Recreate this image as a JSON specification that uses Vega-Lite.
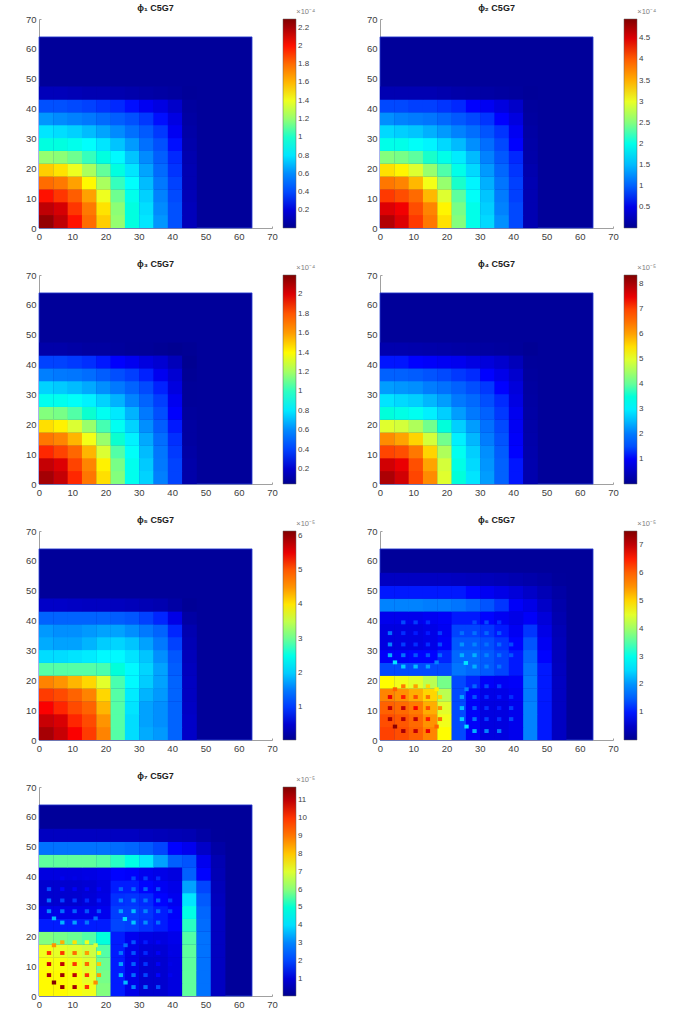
{"$schema":"https://vega.github.io/schema/vega-lite/v6.json","padding":{"left":25,"top":4,"right":0,"bottom":0},"background":"white","columns":2,"bounds":"flush","spacing":{"row":47,"column":108},"resolve":{"scale":{"color":"independent"}},"config":{"view":{"stroke":null},"font":"Liberation Sans","title":{"fontSize":9,"fontWeight":"bold","color":"#202020","offset":-5.5},"axis":{"grid":false,"domainColor":"#a0a0a0","tickColor":"#a0a0a0","tickSize":-2,"labelColor":"#404040","labelFontSize":9.5,"labelPadding":5,"values":[0,10,20,30,40,50,60,70],"labelFlush":false,"labelOverlap":false},"legend":{"orient":"none","legendX":244,"legendY":0,"gradientLength":209,"gradientThickness":13,"labelFontSize":8,"labelColor":"#404040","labelOffset":5,"labelOverlap":false,"gradientStrokeColor":"#606060","gradientStrokeWidth":0.5}},
"datasets":{
"c1":[
{"x":0,"y":0,"v":2.25},{"x":4.3,"y":0,"v":2.15},{"x":8.6,"y":0,"v":2},{"x":12.9,"y":0,"v":1.8},{"x":17.2,"y":0,"v":1.55},{"x":21.5,"y":0,"v":1.2},{"x":25.8,"y":0,"v":0.95},{"x":30.1,"y":0,"v":0.8},{"x":34.4,"y":0,"v":0.62},{"x":38.7,"y":0,"v":0.42},{"x":43,"y":0,"v":0.12},
{"x":0,"y":4.3,"v":2.15},{"x":4.3,"y":4.3,"v":2.1},{"x":8.6,"y":4.3,"v":1.95},{"x":12.9,"y":4.3,"v":1.75},{"x":17.2,"y":4.3,"v":1.5},{"x":21.5,"y":4.3,"v":1.18},{"x":25.8,"y":4.3,"v":0.95},{"x":30.1,"y":4.3,"v":0.78},{"x":34.4,"y":4.3,"v":0.6},{"x":38.7,"y":4.3,"v":0.42},{"x":43,"y":4.3,"v":0.12},
{"x":0,"y":8.6,"v":2},{"x":4.3,"y":8.6,"v":1.95},{"x":8.6,"y":8.6,"v":1.85},{"x":12.9,"y":8.6,"v":1.65},{"x":17.2,"y":8.6,"v":1.4},{"x":21.5,"y":8.6,"v":1.12},{"x":25.8,"y":8.6,"v":0.92},{"x":30.1,"y":8.6,"v":0.75},{"x":34.4,"y":8.6,"v":0.58},{"x":38.7,"y":8.6,"v":0.4},{"x":43,"y":8.6,"v":0.11},
{"x":0,"y":12.9,"v":1.8},{"x":4.3,"y":12.9,"v":1.75},{"x":8.6,"y":12.9,"v":1.65},{"x":12.9,"y":12.9,"v":1.45},{"x":17.2,"y":12.9,"v":1.25},{"x":21.5,"y":12.9,"v":1.03},{"x":25.8,"y":12.9,"v":0.87},{"x":30.1,"y":12.9,"v":0.7},{"x":34.4,"y":12.9,"v":0.55},{"x":38.7,"y":12.9,"v":0.38},{"x":43,"y":12.9,"v":0.1},
{"x":0,"y":17.2,"v":1.55},{"x":4.3,"y":17.2,"v":1.5},{"x":8.6,"y":17.2,"v":1.4},{"x":12.9,"y":17.2,"v":1.25},{"x":17.2,"y":17.2,"v":1.1},{"x":21.5,"y":17.2,"v":0.95},{"x":25.8,"y":17.2,"v":0.8},{"x":30.1,"y":17.2,"v":0.65},{"x":34.4,"y":17.2,"v":0.5},{"x":38.7,"y":17.2,"v":0.35},{"x":43,"y":17.2,"v":0.1},
{"x":0,"y":21.5,"v":1.2},{"x":4.3,"y":21.5,"v":1.18},{"x":8.6,"y":21.5,"v":1.12},{"x":12.9,"y":21.5,"v":1.03},{"x":17.2,"y":21.5,"v":0.95},{"x":21.5,"y":21.5,"v":0.85},{"x":25.8,"y":21.5,"v":0.72},{"x":30.1,"y":21.5,"v":0.6},{"x":34.4,"y":21.5,"v":0.46},{"x":38.7,"y":21.5,"v":0.33},{"x":43,"y":21.5,"v":0.09},
{"x":0,"y":25.8,"v":0.95},{"x":4.3,"y":25.8,"v":0.95},{"x":8.6,"y":25.8,"v":0.92},{"x":12.9,"y":25.8,"v":0.87},{"x":17.2,"y":25.8,"v":0.8},{"x":21.5,"y":25.8,"v":0.72},{"x":25.8,"y":25.8,"v":0.63},{"x":30.1,"y":25.8,"v":0.52},{"x":34.4,"y":25.8,"v":0.42},{"x":38.7,"y":25.8,"v":0.3},{"x":43,"y":25.8,"v":0.08},
{"x":0,"y":30.1,"v":0.8},{"x":4.3,"y":30.1,"v":0.78},{"x":8.6,"y":30.1,"v":0.75},{"x":12.9,"y":30.1,"v":0.7},{"x":17.2,"y":30.1,"v":0.65},{"x":21.5,"y":30.1,"v":0.6},{"x":25.8,"y":30.1,"v":0.52},{"x":30.1,"y":30.1,"v":0.45},{"x":34.4,"y":30.1,"v":0.36},{"x":38.7,"y":30.1,"v":0.26},{"x":43,"y":30.1,"v":0.07},
{"x":0,"y":34.4,"v":0.62},{"x":4.3,"y":34.4,"v":0.6},{"x":8.6,"y":34.4,"v":0.58},{"x":12.9,"y":34.4,"v":0.55},{"x":17.2,"y":34.4,"v":0.5},{"x":21.5,"y":34.4,"v":0.46},{"x":25.8,"y":34.4,"v":0.42},{"x":30.1,"y":34.4,"v":0.36},{"x":34.4,"y":34.4,"v":0.3},{"x":38.7,"y":34.4,"v":0.22},{"x":43,"y":34.4,"v":0.06},
{"x":0,"y":38.7,"v":0.42},{"x":4.3,"y":38.7,"v":0.42},{"x":8.6,"y":38.7,"v":0.4},{"x":12.9,"y":38.7,"v":0.38},{"x":17.2,"y":38.7,"v":0.35},{"x":21.5,"y":38.7,"v":0.33},{"x":25.8,"y":38.7,"v":0.3},{"x":30.1,"y":38.7,"v":0.26},{"x":34.4,"y":38.7,"v":0.22},{"x":38.7,"y":38.7,"v":0.16},{"x":43,"y":38.7,"v":0.05},
{"x":0,"y":43,"v":0.12},{"x":4.3,"y":43,"v":0.12},{"x":8.6,"y":43,"v":0.11},{"x":12.9,"y":43,"v":0.1},{"x":17.2,"y":43,"v":0.1},{"x":21.5,"y":43,"v":0.09},{"x":25.8,"y":43,"v":0.08},{"x":30.1,"y":43,"v":0.07},{"x":34.4,"y":43,"v":0.06},{"x":38.7,"y":43,"v":0.05},{"x":43,"y":43,"v":0.03}
],
"c2":[
{"x":0,"y":0,"v":4.7},{"x":4.3,"y":0,"v":4.5},{"x":8.6,"y":0,"v":4.2},{"x":12.9,"y":0,"v":3.8},{"x":17.2,"y":0,"v":3.25},{"x":21.5,"y":0,"v":2.5},{"x":25.8,"y":0,"v":2},{"x":30.1,"y":0,"v":1.65},{"x":34.4,"y":0,"v":1.3},{"x":38.7,"y":0,"v":0.85},{"x":43,"y":0,"v":0.2},
{"x":0,"y":4.3,"v":4.5},{"x":4.3,"y":4.3,"v":4.4},{"x":8.6,"y":4.3,"v":4.1},{"x":12.9,"y":4.3,"v":3.7},{"x":17.2,"y":4.3,"v":3.15},{"x":21.5,"y":4.3,"v":2.45},{"x":25.8,"y":4.3,"v":2},{"x":30.1,"y":4.3,"v":1.6},{"x":34.4,"y":4.3,"v":1.25},{"x":38.7,"y":4.3,"v":0.85},{"x":43,"y":4.3,"v":0.2},
{"x":0,"y":8.6,"v":4.2},{"x":4.3,"y":8.6,"v":4.1},{"x":8.6,"y":8.6,"v":3.9},{"x":12.9,"y":8.6,"v":3.45},{"x":17.2,"y":8.6,"v":2.95},{"x":21.5,"y":8.6,"v":2.35},{"x":25.8,"y":8.6,"v":1.9},{"x":30.1,"y":8.6,"v":1.55},{"x":34.4,"y":8.6,"v":1.2},{"x":38.7,"y":8.6,"v":0.8},{"x":43,"y":8.6,"v":0.2},
{"x":0,"y":12.9,"v":3.8},{"x":4.3,"y":12.9,"v":3.7},{"x":8.6,"y":12.9,"v":3.45},{"x":12.9,"y":12.9,"v":3.05},{"x":17.2,"y":12.9,"v":2.6},{"x":21.5,"y":12.9,"v":2.15},{"x":25.8,"y":12.9,"v":1.8},{"x":30.1,"y":12.9,"v":1.45},{"x":34.4,"y":12.9,"v":1.15},{"x":38.7,"y":12.9,"v":0.8},{"x":43,"y":12.9,"v":0.2},
{"x":0,"y":17.2,"v":3.25},{"x":4.3,"y":17.2,"v":3.15},{"x":8.6,"y":17.2,"v":2.95},{"x":12.9,"y":17.2,"v":2.6},{"x":17.2,"y":17.2,"v":2.3},{"x":21.5,"y":17.2,"v":2},{"x":25.8,"y":17.2,"v":1.65},{"x":30.1,"y":17.2,"v":1.35},{"x":34.4,"y":17.2,"v":1.05},{"x":38.7,"y":17.2,"v":0.75},{"x":43,"y":17.2,"v":0.18},
{"x":0,"y":21.5,"v":2.5},{"x":4.3,"y":21.5,"v":2.45},{"x":8.6,"y":21.5,"v":2.35},{"x":12.9,"y":21.5,"v":2.15},{"x":17.2,"y":21.5,"v":2},{"x":21.5,"y":21.5,"v":1.75},{"x":25.8,"y":21.5,"v":1.5},{"x":30.1,"y":21.5,"v":1.25},{"x":34.4,"y":21.5,"v":0.95},{"x":38.7,"y":21.5,"v":0.7},{"x":43,"y":21.5,"v":0.15},
{"x":0,"y":25.8,"v":2},{"x":4.3,"y":25.8,"v":2},{"x":8.6,"y":25.8,"v":1.9},{"x":12.9,"y":25.8,"v":1.8},{"x":17.2,"y":25.8,"v":1.65},{"x":21.5,"y":25.8,"v":1.5},{"x":25.8,"y":25.8,"v":1.3},{"x":30.1,"y":25.8,"v":1.1},{"x":34.4,"y":25.8,"v":0.85},{"x":38.7,"y":25.8,"v":0.62},{"x":43,"y":25.8,"v":0.14},
{"x":0,"y":30.1,"v":1.65},{"x":4.3,"y":30.1,"v":1.6},{"x":8.6,"y":30.1,"v":1.55},{"x":12.9,"y":30.1,"v":1.45},{"x":17.2,"y":30.1,"v":1.35},{"x":21.5,"y":30.1,"v":1.25},{"x":25.8,"y":30.1,"v":1.1},{"x":30.1,"y":30.1,"v":0.92},{"x":34.4,"y":30.1,"v":0.75},{"x":38.7,"y":30.1,"v":0.55},{"x":43,"y":30.1,"v":0.12},
{"x":0,"y":34.4,"v":1.3},{"x":4.3,"y":34.4,"v":1.25},{"x":8.6,"y":34.4,"v":1.2},{"x":12.9,"y":34.4,"v":1.15},{"x":17.2,"y":34.4,"v":1.05},{"x":21.5,"y":34.4,"v":0.95},{"x":25.8,"y":34.4,"v":0.85},{"x":30.1,"y":34.4,"v":0.75},{"x":34.4,"y":34.4,"v":0.62},{"x":38.7,"y":34.4,"v":0.45},{"x":43,"y":34.4,"v":0.1},
{"x":0,"y":38.7,"v":0.85},{"x":4.3,"y":38.7,"v":0.85},{"x":8.6,"y":38.7,"v":0.8},{"x":12.9,"y":38.7,"v":0.8},{"x":17.2,"y":38.7,"v":0.75},{"x":21.5,"y":38.7,"v":0.7},{"x":25.8,"y":38.7,"v":0.62},{"x":30.1,"y":38.7,"v":0.55},{"x":34.4,"y":38.7,"v":0.45},{"x":38.7,"y":38.7,"v":0.33},{"x":43,"y":38.7,"v":0.08},
{"x":0,"y":43,"v":0.2},{"x":4.3,"y":43,"v":0.2},{"x":8.6,"y":43,"v":0.2},{"x":12.9,"y":43,"v":0.2},{"x":17.2,"y":43,"v":0.18},{"x":21.5,"y":43,"v":0.15},{"x":25.8,"y":43,"v":0.14},{"x":30.1,"y":43,"v":0.12},{"x":34.4,"y":43,"v":0.1},{"x":38.7,"y":43,"v":0.08},{"x":43,"y":43,"v":0.05}
],
"c3":[
{"x":0,"y":0,"v":2.12},{"x":4.3,"y":0,"v":2.05},{"x":8.6,"y":0,"v":1.9},{"x":12.9,"y":0,"v":1.7},{"x":17.2,"y":0,"v":1.46},{"x":21.5,"y":0,"v":1.13},{"x":25.8,"y":0,"v":0.9},{"x":30.1,"y":0,"v":0.75},{"x":34.4,"y":0,"v":0.58},{"x":38.7,"y":0,"v":0.4},{"x":43,"y":0,"v":0.11},
{"x":0,"y":4.3,"v":2.05},{"x":4.3,"y":4.3,"v":2},{"x":8.6,"y":4.3,"v":1.85},{"x":12.9,"y":4.3,"v":1.65},{"x":17.2,"y":4.3,"v":1.42},{"x":21.5,"y":4.3,"v":1.11},{"x":25.8,"y":4.3,"v":0.9},{"x":30.1,"y":4.3,"v":0.73},{"x":34.4,"y":4.3,"v":0.56},{"x":38.7,"y":4.3,"v":0.4},{"x":43,"y":4.3,"v":0.11},
{"x":0,"y":8.6,"v":1.9},{"x":4.3,"y":8.6,"v":1.85},{"x":8.6,"y":8.6,"v":1.75},{"x":12.9,"y":8.6,"v":1.55},{"x":17.2,"y":8.6,"v":1.32},{"x":21.5,"y":8.6,"v":1.05},{"x":25.8,"y":8.6,"v":0.87},{"x":30.1,"y":8.6,"v":0.7},{"x":34.4,"y":8.6,"v":0.55},{"x":38.7,"y":8.6,"v":0.38},{"x":43,"y":8.6,"v":0.1},
{"x":0,"y":12.9,"v":1.7},{"x":4.3,"y":12.9,"v":1.65},{"x":8.6,"y":12.9,"v":1.55},{"x":12.9,"y":12.9,"v":1.37},{"x":17.2,"y":12.9,"v":1.18},{"x":21.5,"y":12.9,"v":0.97},{"x":25.8,"y":12.9,"v":0.82},{"x":30.1,"y":12.9,"v":0.66},{"x":34.4,"y":12.9,"v":0.52},{"x":38.7,"y":12.9,"v":0.36},{"x":43,"y":12.9,"v":0.09},
{"x":0,"y":17.2,"v":1.46},{"x":4.3,"y":17.2,"v":1.42},{"x":8.6,"y":17.2,"v":1.32},{"x":12.9,"y":17.2,"v":1.18},{"x":17.2,"y":17.2,"v":1.03},{"x":21.5,"y":17.2,"v":0.89},{"x":25.8,"y":17.2,"v":0.75},{"x":30.1,"y":17.2,"v":0.61},{"x":34.4,"y":17.2,"v":0.47},{"x":38.7,"y":17.2,"v":0.33},{"x":43,"y":17.2,"v":0.09},
{"x":0,"y":21.5,"v":1.13},{"x":4.3,"y":21.5,"v":1.11},{"x":8.6,"y":21.5,"v":1.05},{"x":12.9,"y":21.5,"v":0.97},{"x":17.2,"y":21.5,"v":0.89},{"x":21.5,"y":21.5,"v":0.8},{"x":25.8,"y":21.5,"v":0.68},{"x":30.1,"y":21.5,"v":0.56},{"x":34.4,"y":21.5,"v":0.43},{"x":38.7,"y":21.5,"v":0.31},{"x":43,"y":21.5,"v":0.08},
{"x":0,"y":25.8,"v":0.9},{"x":4.3,"y":25.8,"v":0.9},{"x":8.6,"y":25.8,"v":0.87},{"x":12.9,"y":25.8,"v":0.82},{"x":17.2,"y":25.8,"v":0.75},{"x":21.5,"y":25.8,"v":0.68},{"x":25.8,"y":25.8,"v":0.59},{"x":30.1,"y":25.8,"v":0.49},{"x":34.4,"y":25.8,"v":0.39},{"x":38.7,"y":25.8,"v":0.28},{"x":43,"y":25.8,"v":0.07},
{"x":0,"y":30.1,"v":0.75},{"x":4.3,"y":30.1,"v":0.73},{"x":8.6,"y":30.1,"v":0.7},{"x":12.9,"y":30.1,"v":0.66},{"x":17.2,"y":30.1,"v":0.61},{"x":21.5,"y":30.1,"v":0.56},{"x":25.8,"y":30.1,"v":0.49},{"x":30.1,"y":30.1,"v":0.42},{"x":34.4,"y":30.1,"v":0.34},{"x":38.7,"y":30.1,"v":0.24},{"x":43,"y":30.1,"v":0.07},
{"x":0,"y":34.4,"v":0.58},{"x":4.3,"y":34.4,"v":0.56},{"x":8.6,"y":34.4,"v":0.55},{"x":12.9,"y":34.4,"v":0.52},{"x":17.2,"y":34.4,"v":0.47},{"x":21.5,"y":34.4,"v":0.43},{"x":25.8,"y":34.4,"v":0.39},{"x":30.1,"y":34.4,"v":0.34},{"x":34.4,"y":34.4,"v":0.28},{"x":38.7,"y":34.4,"v":0.21},{"x":43,"y":34.4,"v":0.06},
{"x":0,"y":38.7,"v":0.4},{"x":4.3,"y":38.7,"v":0.4},{"x":8.6,"y":38.7,"v":0.38},{"x":12.9,"y":38.7,"v":0.36},{"x":17.2,"y":38.7,"v":0.33},{"x":21.5,"y":38.7,"v":0.31},{"x":25.8,"y":38.7,"v":0.28},{"x":30.1,"y":38.7,"v":0.24},{"x":34.4,"y":38.7,"v":0.21},{"x":38.7,"y":38.7,"v":0.15},{"x":43,"y":38.7,"v":0.05},
{"x":0,"y":43,"v":0.11},{"x":4.3,"y":43,"v":0.11},{"x":8.6,"y":43,"v":0.1},{"x":12.9,"y":43,"v":0.09},{"x":17.2,"y":43,"v":0.09},{"x":21.5,"y":43,"v":0.08},{"x":25.8,"y":43,"v":0.07},{"x":30.1,"y":43,"v":0.07},{"x":34.4,"y":43,"v":0.06},{"x":38.7,"y":43,"v":0.05},{"x":43,"y":43,"v":0.06}
],
"c4":[
{"x":0,"y":0,"v":8},{"x":4.3,"y":0,"v":7.7},{"x":8.6,"y":0,"v":7},{"x":12.9,"y":0,"v":6.2},{"x":17.2,"y":0,"v":5},{"x":21.5,"y":0,"v":3.5},{"x":25.8,"y":0,"v":2.9},{"x":30.1,"y":0,"v":2.3},{"x":34.4,"y":0,"v":1.7},{"x":38.7,"y":0,"v":1.1},{"x":43,"y":0,"v":0.3},
{"x":0,"y":4.3,"v":7.7},{"x":4.3,"y":4.3,"v":7.5},{"x":8.6,"y":4.3,"v":6.9},{"x":12.9,"y":4.3,"v":6},{"x":17.2,"y":4.3,"v":4.9},{"x":21.5,"y":4.3,"v":3.4},{"x":25.8,"y":4.3,"v":2.8},{"x":30.1,"y":4.3,"v":2.25},{"x":34.4,"y":4.3,"v":1.7},{"x":38.7,"y":4.3,"v":1.1},{"x":43,"y":4.3,"v":0.3},
{"x":0,"y":8.6,"v":7},{"x":4.3,"y":8.6,"v":6.9},{"x":8.6,"y":8.6,"v":6.4},{"x":12.9,"y":8.6,"v":5.6},{"x":17.2,"y":8.6,"v":4.6},{"x":21.5,"y":8.6,"v":3.3},{"x":25.8,"y":8.6,"v":2.7},{"x":30.1,"y":8.6,"v":2.2},{"x":34.4,"y":8.6,"v":1.65},{"x":38.7,"y":8.6,"v":1.05},{"x":43,"y":8.6,"v":0.28},
{"x":0,"y":12.9,"v":6.2},{"x":4.3,"y":12.9,"v":6},{"x":8.6,"y":12.9,"v":5.6},{"x":12.9,"y":12.9,"v":4.9},{"x":17.2,"y":12.9,"v":4.1},{"x":21.5,"y":12.9,"v":3},{"x":25.8,"y":12.9,"v":2.5},{"x":30.1,"y":12.9,"v":2.05},{"x":34.4,"y":12.9,"v":1.55},{"x":38.7,"y":12.9,"v":1},{"x":43,"y":12.9,"v":0.26},
{"x":0,"y":17.2,"v":5},{"x":4.3,"y":17.2,"v":4.9},{"x":8.6,"y":17.2,"v":4.6},{"x":12.9,"y":17.2,"v":4.1},{"x":17.2,"y":17.2,"v":3.5},{"x":21.5,"y":17.2,"v":2.7},{"x":25.8,"y":17.2,"v":2.3},{"x":30.1,"y":17.2,"v":1.9},{"x":34.4,"y":17.2,"v":1.45},{"x":38.7,"y":17.2,"v":0.95},{"x":43,"y":17.2,"v":0.24},
{"x":0,"y":21.5,"v":3.5},{"x":4.3,"y":21.5,"v":3.4},{"x":8.6,"y":21.5,"v":3.3},{"x":12.9,"y":21.5,"v":3},{"x":17.2,"y":21.5,"v":2.7},{"x":21.5,"y":21.5,"v":2.3},{"x":25.8,"y":21.5,"v":2},{"x":30.1,"y":21.5,"v":1.7},{"x":34.4,"y":21.5,"v":1.3},{"x":38.7,"y":21.5,"v":0.9},{"x":43,"y":21.5,"v":0.22},
{"x":0,"y":25.8,"v":2.9},{"x":4.3,"y":25.8,"v":2.8},{"x":8.6,"y":25.8,"v":2.7},{"x":12.9,"y":25.8,"v":2.5},{"x":17.2,"y":25.8,"v":2.3},{"x":21.5,"y":25.8,"v":2},{"x":25.8,"y":25.8,"v":1.8},{"x":30.1,"y":25.8,"v":1.5},{"x":34.4,"y":25.8,"v":1.2},{"x":38.7,"y":25.8,"v":0.8},{"x":43,"y":25.8,"v":0.2},
{"x":0,"y":30.1,"v":2.3},{"x":4.3,"y":30.1,"v":2.25},{"x":8.6,"y":30.1,"v":2.2},{"x":12.9,"y":30.1,"v":2.05},{"x":17.2,"y":30.1,"v":1.9},{"x":21.5,"y":30.1,"v":1.7},{"x":25.8,"y":30.1,"v":1.5},{"x":30.1,"y":30.1,"v":1.3},{"x":34.4,"y":30.1,"v":1.05},{"x":38.7,"y":30.1,"v":0.72},{"x":43,"y":30.1,"v":0.18},
{"x":0,"y":34.4,"v":1.7},{"x":4.3,"y":34.4,"v":1.7},{"x":8.6,"y":34.4,"v":1.65},{"x":12.9,"y":34.4,"v":1.55},{"x":17.2,"y":34.4,"v":1.45},{"x":21.5,"y":34.4,"v":1.3},{"x":25.8,"y":34.4,"v":1.2},{"x":30.1,"y":34.4,"v":1.05},{"x":34.4,"y":34.4,"v":0.85},{"x":38.7,"y":34.4,"v":0.6},{"x":43,"y":34.4,"v":0.15},
{"x":0,"y":38.7,"v":1.1},{"x":4.3,"y":38.7,"v":1.1},{"x":8.6,"y":38.7,"v":1.05},{"x":12.9,"y":38.7,"v":1},{"x":17.2,"y":38.7,"v":0.95},{"x":21.5,"y":38.7,"v":0.9},{"x":25.8,"y":38.7,"v":0.8},{"x":30.1,"y":38.7,"v":0.72},{"x":34.4,"y":38.7,"v":0.6},{"x":38.7,"y":38.7,"v":0.42},{"x":43,"y":38.7,"v":0.12},
{"x":0,"y":43,"v":0.3},{"x":4.3,"y":43,"v":0.3},{"x":8.6,"y":43,"v":0.28},{"x":12.9,"y":43,"v":0.26},{"x":17.2,"y":43,"v":0.24},{"x":21.5,"y":43,"v":0.22},{"x":25.8,"y":43,"v":0.2},{"x":30.1,"y":43,"v":0.18},{"x":34.4,"y":43,"v":0.15},{"x":38.7,"y":43,"v":0.12},{"x":43,"y":43,"v":0.06}
],
"c5":[
{"x":0,"y":0,"v":5.9},{"x":4.3,"y":0,"v":5.7},{"x":8.6,"y":0,"v":5.4},{"x":12.9,"y":0,"v":5.2},{"x":17.2,"y":0,"v":4.6},{"x":21.5,"y":0,"v":2.9},{"x":25.8,"y":0,"v":2.1},{"x":30.1,"y":0,"v":1.8},{"x":34.4,"y":0,"v":1.7},{"x":38.7,"y":0,"v":1.3},{"x":43,"y":0,"v":0.45},
{"x":0,"y":4.3,"v":5.7},{"x":4.3,"y":4.3,"v":5.6},{"x":8.6,"y":4.3,"v":5.3},{"x":12.9,"y":4.3,"v":5.1},{"x":17.2,"y":4.3,"v":4.5},{"x":21.5,"y":4.3,"v":2.9},{"x":25.8,"y":4.3,"v":2.1},{"x":30.1,"y":4.3,"v":1.75},{"x":34.4,"y":4.3,"v":1.65},{"x":38.7,"y":4.3,"v":1.3},{"x":43,"y":4.3,"v":0.45},
{"x":0,"y":8.6,"v":5.4},{"x":4.3,"y":8.6,"v":5.3},{"x":8.6,"y":8.6,"v":5.1},{"x":12.9,"y":8.6,"v":4.9},{"x":17.2,"y":8.6,"v":4.3},{"x":21.5,"y":8.6,"v":2.9},{"x":25.8,"y":8.6,"v":2.15},{"x":30.1,"y":8.6,"v":1.75},{"x":34.4,"y":8.6,"v":1.65},{"x":38.7,"y":8.6,"v":1.3},{"x":43,"y":8.6,"v":0.42},
{"x":0,"y":12.9,"v":5.2},{"x":4.3,"y":12.9,"v":5.1},{"x":8.6,"y":12.9,"v":4.9},{"x":12.9,"y":12.9,"v":4.6},{"x":17.2,"y":12.9,"v":4.1},{"x":21.5,"y":12.9,"v":2.9},{"x":25.8,"y":12.9,"v":2.2},{"x":30.1,"y":12.9,"v":1.85},{"x":34.4,"y":12.9,"v":1.7},{"x":38.7,"y":12.9,"v":1.3},{"x":43,"y":12.9,"v":0.4},
{"x":0,"y":17.2,"v":4.6},{"x":4.3,"y":17.2,"v":4.5},{"x":8.6,"y":17.2,"v":4.3},{"x":12.9,"y":17.2,"v":4.1},{"x":17.2,"y":17.2,"v":3.7},{"x":21.5,"y":17.2,"v":2.85},{"x":25.8,"y":17.2,"v":2.3},{"x":30.1,"y":17.2,"v":2},{"x":34.4,"y":17.2,"v":1.75},{"x":38.7,"y":17.2,"v":1.3},{"x":43,"y":17.2,"v":0.4},
{"x":0,"y":21.5,"v":2.9},{"x":4.3,"y":21.5,"v":2.9},{"x":8.6,"y":21.5,"v":2.9},{"x":12.9,"y":21.5,"v":2.9},{"x":17.2,"y":21.5,"v":2.85},{"x":21.5,"y":21.5,"v":2.6},{"x":25.8,"y":21.5,"v":2.3},{"x":30.1,"y":21.5,"v":2.05},{"x":34.4,"y":21.5,"v":1.75},{"x":38.7,"y":21.5,"v":1.25},{"x":43,"y":21.5,"v":0.38},
{"x":0,"y":25.8,"v":2.1},{"x":4.3,"y":25.8,"v":2.1},{"x":8.6,"y":25.8,"v":2.15},{"x":12.9,"y":25.8,"v":2.2},{"x":17.2,"y":25.8,"v":2.3},{"x":21.5,"y":25.8,"v":2.3},{"x":25.8,"y":25.8,"v":2.15},{"x":30.1,"y":25.8,"v":1.95},{"x":34.4,"y":25.8,"v":1.65},{"x":38.7,"y":25.8,"v":1.2},{"x":43,"y":25.8,"v":0.35},
{"x":0,"y":30.1,"v":1.8},{"x":4.3,"y":30.1,"v":1.75},{"x":8.6,"y":30.1,"v":1.75},{"x":12.9,"y":30.1,"v":1.85},{"x":17.2,"y":30.1,"v":2},{"x":21.5,"y":30.1,"v":2.05},{"x":25.8,"y":30.1,"v":1.95},{"x":30.1,"y":30.1,"v":1.75},{"x":34.4,"y":30.1,"v":1.5},{"x":38.7,"y":30.1,"v":1.05},{"x":43,"y":30.1,"v":0.32},
{"x":0,"y":34.4,"v":1.7},{"x":4.3,"y":34.4,"v":1.65},{"x":8.6,"y":34.4,"v":1.65},{"x":12.9,"y":34.4,"v":1.7},{"x":17.2,"y":34.4,"v":1.75},{"x":21.5,"y":34.4,"v":1.75},{"x":25.8,"y":34.4,"v":1.65},{"x":30.1,"y":34.4,"v":1.5},{"x":34.4,"y":34.4,"v":1.3},{"x":38.7,"y":34.4,"v":0.9},{"x":43,"y":34.4,"v":0.28},
{"x":0,"y":38.7,"v":1.3},{"x":4.3,"y":38.7,"v":1.3},{"x":8.6,"y":38.7,"v":1.3},{"x":12.9,"y":38.7,"v":1.3},{"x":17.2,"y":38.7,"v":1.3},{"x":21.5,"y":38.7,"v":1.25},{"x":25.8,"y":38.7,"v":1.2},{"x":30.1,"y":38.7,"v":1.05},{"x":34.4,"y":38.7,"v":0.9},{"x":38.7,"y":38.7,"v":0.65},{"x":43,"y":38.7,"v":0.2},
{"x":0,"y":43,"v":0.45},{"x":4.3,"y":43,"v":0.45},{"x":8.6,"y":43,"v":0.42},{"x":12.9,"y":43,"v":0.4},{"x":17.2,"y":43,"v":0.4},{"x":21.5,"y":43,"v":0.38},{"x":25.8,"y":43,"v":0.35},{"x":30.1,"y":43,"v":0.32},{"x":34.4,"y":43,"v":0.28},{"x":38.7,"y":43,"v":0.2},{"x":43,"y":43,"v":0.1}
],
"c6":[
{"x":0,"y":0,"v":6.3},{"x":4.3,"y":0,"v":6.2},{"x":8.6,"y":0,"v":6},{"x":12.9,"y":0,"v":5.6},{"x":17.2,"y":0,"v":4.7},{"x":21.5,"y":0,"v":1.3},{"x":25.8,"y":0,"v":0.9},{"x":30.1,"y":0,"v":0.7},{"x":34.4,"y":0,"v":0.7},{"x":38.7,"y":0,"v":0.8},{"x":43,"y":0,"v":1.9},{"x":47.3,"y":0,"v":1},{"x":51.6,"y":0,"v":0.45},
{"x":0,"y":4.3,"v":6.2},{"x":4.3,"y":4.3,"v":6.1},{"x":8.6,"y":4.3,"v":5.9},{"x":12.9,"y":4.3,"v":5.5},{"x":17.2,"y":4.3,"v":4.6},{"x":21.5,"y":4.3,"v":1.3},{"x":25.8,"y":4.3,"v":0.9},{"x":30.1,"y":4.3,"v":0.7},{"x":34.4,"y":4.3,"v":0.7},{"x":38.7,"y":4.3,"v":0.8},{"x":43,"y":4.3,"v":1.9},{"x":47.3,"y":4.3,"v":1},{"x":51.6,"y":4.3,"v":0.45},
{"x":0,"y":8.6,"v":6},{"x":4.3,"y":8.6,"v":5.9},{"x":8.6,"y":8.6,"v":5.7},{"x":12.9,"y":8.6,"v":5.3},{"x":17.2,"y":8.6,"v":4.5},{"x":21.5,"y":8.6,"v":1.3},{"x":25.8,"y":8.6,"v":0.9},{"x":30.1,"y":8.6,"v":0.7},{"x":34.4,"y":8.6,"v":0.7},{"x":38.7,"y":8.6,"v":0.8},{"x":43,"y":8.6,"v":1.9},{"x":47.3,"y":8.6,"v":1},{"x":51.6,"y":8.6,"v":0.45},
{"x":0,"y":12.9,"v":5.6},{"x":4.3,"y":12.9,"v":5.5},{"x":8.6,"y":12.9,"v":5.3},{"x":12.9,"y":12.9,"v":5},{"x":17.2,"y":12.9,"v":4.2},{"x":21.5,"y":12.9,"v":1.3},{"x":25.8,"y":12.9,"v":0.95},{"x":30.1,"y":12.9,"v":0.75},{"x":34.4,"y":12.9,"v":0.75},{"x":38.7,"y":12.9,"v":0.85},{"x":43,"y":12.9,"v":1.85},{"x":47.3,"y":12.9,"v":1},{"x":51.6,"y":12.9,"v":0.45},
{"x":0,"y":17.2,"v":4.7},{"x":4.3,"y":17.2,"v":4.6},{"x":8.6,"y":17.2,"v":4.5},{"x":12.9,"y":17.2,"v":4.2},{"x":17.2,"y":17.2,"v":3.7},{"x":21.5,"y":17.2,"v":1.3},{"x":25.8,"y":17.2,"v":1.05},{"x":30.1,"y":17.2,"v":0.9},{"x":34.4,"y":17.2,"v":0.85},{"x":38.7,"y":17.2,"v":0.9},{"x":43,"y":17.2,"v":1.85},{"x":47.3,"y":17.2,"v":1},{"x":51.6,"y":17.2,"v":0.45},
{"x":0,"y":21.5,"v":1.3},{"x":4.3,"y":21.5,"v":1.3},{"x":8.6,"y":21.5,"v":1.3},{"x":12.9,"y":21.5,"v":1.3},{"x":17.2,"y":21.5,"v":1.3},{"x":21.5,"y":21.5,"v":1.75},{"x":25.8,"y":21.5,"v":1.6},{"x":30.1,"y":21.5,"v":1.45},{"x":34.4,"y":21.5,"v":1.25},{"x":38.7,"y":21.5,"v":1},{"x":43,"y":21.5,"v":1.75},{"x":47.3,"y":21.5,"v":1},{"x":51.6,"y":21.5,"v":0.42},
{"x":0,"y":25.8,"v":0.9},{"x":4.3,"y":25.8,"v":0.9},{"x":8.6,"y":25.8,"v":0.95},{"x":12.9,"y":25.8,"v":0.95},{"x":17.2,"y":25.8,"v":1.05},{"x":21.5,"y":25.8,"v":1.6},{"x":25.8,"y":25.8,"v":1.6},{"x":30.1,"y":25.8,"v":1.45},{"x":34.4,"y":25.8,"v":1.25},{"x":38.7,"y":25.8,"v":1},{"x":43,"y":25.8,"v":1.6},{"x":47.3,"y":25.8,"v":0.95},{"x":51.6,"y":25.8,"v":0.4},
{"x":0,"y":30.1,"v":0.7},{"x":4.3,"y":30.1,"v":0.7},{"x":8.6,"y":30.1,"v":0.7},{"x":12.9,"y":30.1,"v":0.75},{"x":17.2,"y":30.1,"v":0.9},{"x":21.5,"y":30.1,"v":1.45},{"x":25.8,"y":30.1,"v":1.45},{"x":30.1,"y":30.1,"v":1.35},{"x":34.4,"y":30.1,"v":1.15},{"x":38.7,"y":30.1,"v":0.95},{"x":43,"y":30.1,"v":1.4},{"x":47.3,"y":30.1,"v":0.85},{"x":51.6,"y":30.1,"v":0.38},
{"x":0,"y":34.4,"v":0.7},{"x":4.3,"y":34.4,"v":0.7},{"x":8.6,"y":34.4,"v":0.7},{"x":12.9,"y":34.4,"v":0.75},{"x":17.2,"y":34.4,"v":0.85},{"x":21.5,"y":34.4,"v":1.25},{"x":25.8,"y":34.4,"v":1.25},{"x":30.1,"y":34.4,"v":1.15},{"x":34.4,"y":34.4,"v":1},{"x":38.7,"y":34.4,"v":0.85},{"x":43,"y":34.4,"v":1.15},{"x":47.3,"y":34.4,"v":0.75},{"x":51.6,"y":34.4,"v":0.35},
{"x":0,"y":38.7,"v":0.8},{"x":4.3,"y":38.7,"v":0.8},{"x":8.6,"y":38.7,"v":0.8},{"x":12.9,"y":38.7,"v":0.85},{"x":17.2,"y":38.7,"v":0.9},{"x":21.5,"y":38.7,"v":1},{"x":25.8,"y":38.7,"v":1},{"x":30.1,"y":38.7,"v":0.95},{"x":34.4,"y":38.7,"v":0.85},{"x":38.7,"y":38.7,"v":0.75},{"x":43,"y":38.7,"v":0.9},{"x":47.3,"y":38.7,"v":0.65},{"x":51.6,"y":38.7,"v":0.3},
{"x":0,"y":43,"v":1.9},{"x":4.3,"y":43,"v":1.9},{"x":8.6,"y":43,"v":1.9},{"x":12.9,"y":43,"v":1.85},{"x":17.2,"y":43,"v":1.85},{"x":21.5,"y":43,"v":1.75},{"x":25.8,"y":43,"v":1.6},{"x":30.1,"y":43,"v":1.4},{"x":34.4,"y":43,"v":1.15},{"x":38.7,"y":43,"v":0.9},{"x":43,"y":43,"v":0.75},{"x":47.3,"y":43,"v":0.5},{"x":51.6,"y":43,"v":0.25},
{"x":0,"y":47.3,"v":1},{"x":4.3,"y":47.3,"v":1},{"x":8.6,"y":47.3,"v":1},{"x":12.9,"y":47.3,"v":1},{"x":17.2,"y":47.3,"v":1},{"x":21.5,"y":47.3,"v":1},{"x":25.8,"y":47.3,"v":0.95},{"x":30.1,"y":47.3,"v":0.85},{"x":34.4,"y":47.3,"v":0.75},{"x":38.7,"y":47.3,"v":0.65},{"x":43,"y":47.3,"v":0.5},{"x":47.3,"y":47.3,"v":0.35},{"x":51.6,"y":47.3,"v":0.2},
{"x":0,"y":51.6,"v":0.45},{"x":4.3,"y":51.6,"v":0.45},{"x":8.6,"y":51.6,"v":0.45},{"x":12.9,"y":51.6,"v":0.45},{"x":17.2,"y":51.6,"v":0.45},{"x":21.5,"y":51.6,"v":0.42},{"x":25.8,"y":51.6,"v":0.4},{"x":30.1,"y":51.6,"v":0.38},{"x":34.4,"y":51.6,"v":0.35},{"x":38.7,"y":51.6,"v":0.3},{"x":43,"y":51.6,"v":0.25},{"x":47.3,"y":51.6,"v":0.2},{"x":51.6,"y":51.6,"v":0.12}
],
"c7":[
{"x":0,"y":0,"v":7.4},{"x":4.3,"y":0,"v":7.4},{"x":8.6,"y":0,"v":7.3},{"x":12.9,"y":0,"v":7.2},{"x":17.2,"y":0,"v":5.9},{"x":21.5,"y":0,"v":1.6},{"x":25.8,"y":0,"v":1.2},{"x":30.1,"y":0,"v":0.9},{"x":34.4,"y":0,"v":0.9},{"x":38.7,"y":0,"v":1.1},{"x":43,"y":0,"v":5.6},{"x":47.3,"y":0,"v":2.7},{"x":51.6,"y":0,"v":0.7},
{"x":0,"y":4.3,"v":7.4},{"x":4.3,"y":4.3,"v":7.4},{"x":8.6,"y":4.3,"v":7.3},{"x":12.9,"y":4.3,"v":7.1},{"x":17.2,"y":4.3,"v":5.8},{"x":21.5,"y":4.3,"v":1.6},{"x":25.8,"y":4.3,"v":1.2},{"x":30.1,"y":4.3,"v":0.9},{"x":34.4,"y":4.3,"v":0.9},{"x":38.7,"y":4.3,"v":1.1},{"x":43,"y":4.3,"v":5.6},{"x":47.3,"y":4.3,"v":2.7},{"x":51.6,"y":4.3,"v":0.7},
{"x":0,"y":8.6,"v":7.3},{"x":4.3,"y":8.6,"v":7.3},{"x":8.6,"y":8.6,"v":7.2},{"x":12.9,"y":8.6,"v":7},{"x":17.2,"y":8.6,"v":5.7},{"x":21.5,"y":8.6,"v":1.6},{"x":25.8,"y":8.6,"v":1.2},{"x":30.1,"y":8.6,"v":0.9},{"x":34.4,"y":8.6,"v":0.9},{"x":38.7,"y":8.6,"v":1.1},{"x":43,"y":8.6,"v":5.6},{"x":47.3,"y":8.6,"v":2.7},{"x":51.6,"y":8.6,"v":0.7},
{"x":0,"y":12.9,"v":7.2},{"x":4.3,"y":12.9,"v":7.1},{"x":8.6,"y":12.9,"v":7},{"x":12.9,"y":12.9,"v":6.8},{"x":17.2,"y":12.9,"v":5.5},{"x":21.5,"y":12.9,"v":1.6},{"x":25.8,"y":12.9,"v":1.2},{"x":30.1,"y":12.9,"v":1},{"x":34.4,"y":12.9,"v":0.95},{"x":38.7,"y":12.9,"v":1.15},{"x":43,"y":12.9,"v":5.6},{"x":47.3,"y":12.9,"v":2.7},{"x":51.6,"y":12.9,"v":0.7},
{"x":0,"y":17.2,"v":5.9},{"x":4.3,"y":17.2,"v":5.8},{"x":8.6,"y":17.2,"v":5.7},{"x":12.9,"y":17.2,"v":5.5},{"x":17.2,"y":17.2,"v":4.9},{"x":21.5,"y":17.2,"v":1.6},{"x":25.8,"y":17.2,"v":1.3},{"x":30.1,"y":17.2,"v":1.15},{"x":34.4,"y":17.2,"v":1.1},{"x":38.7,"y":17.2,"v":1.25},{"x":43,"y":17.2,"v":5.5},{"x":47.3,"y":17.2,"v":2.7},{"x":51.6,"y":17.2,"v":0.7},
{"x":0,"y":21.5,"v":1.6},{"x":4.3,"y":21.5,"v":1.6},{"x":8.6,"y":21.5,"v":1.6},{"x":12.9,"y":21.5,"v":1.6},{"x":17.2,"y":21.5,"v":1.6},{"x":21.5,"y":21.5,"v":2},{"x":25.8,"y":21.5,"v":1.9},{"x":30.1,"y":21.5,"v":1.75},{"x":34.4,"y":21.5,"v":1.6},{"x":38.7,"y":21.5,"v":1.5},{"x":43,"y":21.5,"v":5.2},{"x":47.3,"y":21.5,"v":2.6},{"x":51.6,"y":21.5,"v":0.7},
{"x":0,"y":25.8,"v":1.2},{"x":4.3,"y":25.8,"v":1.2},{"x":8.6,"y":25.8,"v":1.2},{"x":12.9,"y":25.8,"v":1.2},{"x":17.2,"y":25.8,"v":1.3},{"x":21.5,"y":25.8,"v":1.9},{"x":25.8,"y":25.8,"v":1.9},{"x":30.1,"y":25.8,"v":1.8},{"x":34.4,"y":25.8,"v":1.6},{"x":38.7,"y":25.8,"v":1.45},{"x":43,"y":25.8,"v":4.8},{"x":47.3,"y":25.8,"v":2.5},{"x":51.6,"y":25.8,"v":0.7},
{"x":0,"y":30.1,"v":0.9},{"x":4.3,"y":30.1,"v":0.9},{"x":8.6,"y":30.1,"v":0.9},{"x":12.9,"y":30.1,"v":1},{"x":17.2,"y":30.1,"v":1.15},{"x":21.5,"y":30.1,"v":1.75},{"x":25.8,"y":30.1,"v":1.8},{"x":30.1,"y":30.1,"v":1.7},{"x":34.4,"y":30.1,"v":1.5},{"x":38.7,"y":30.1,"v":1.3},{"x":43,"y":30.1,"v":4.1},{"x":47.3,"y":30.1,"v":2.3},{"x":51.6,"y":30.1,"v":0.65},
{"x":0,"y":34.4,"v":0.9},{"x":4.3,"y":34.4,"v":0.9},{"x":8.6,"y":34.4,"v":0.9},{"x":12.9,"y":34.4,"v":0.95},{"x":17.2,"y":34.4,"v":1.1},{"x":21.5,"y":34.4,"v":1.6},{"x":25.8,"y":34.4,"v":1.6},{"x":30.1,"y":34.4,"v":1.5},{"x":34.4,"y":34.4,"v":1.35},{"x":38.7,"y":34.4,"v":1.2},{"x":43,"y":34.4,"v":3.3},{"x":47.3,"y":34.4,"v":2},{"x":51.6,"y":34.4,"v":0.6},
{"x":0,"y":38.7,"v":1.1},{"x":4.3,"y":38.7,"v":1.1},{"x":8.6,"y":38.7,"v":1.1},{"x":12.9,"y":38.7,"v":1.15},{"x":17.2,"y":38.7,"v":1.25},{"x":21.5,"y":38.7,"v":1.5},{"x":25.8,"y":38.7,"v":1.45},{"x":30.1,"y":38.7,"v":1.3},{"x":34.4,"y":38.7,"v":1.2},{"x":38.7,"y":38.7,"v":1.1},{"x":43,"y":38.7,"v":2.4},{"x":47.3,"y":38.7,"v":1.5},{"x":51.6,"y":38.7,"v":0.55},
{"x":0,"y":43,"v":5.6},{"x":4.3,"y":43,"v":5.6},{"x":8.6,"y":43,"v":5.6},{"x":12.9,"y":43,"v":5.6},{"x":17.2,"y":43,"v":5.5},{"x":21.5,"y":43,"v":5.2},{"x":25.8,"y":43,"v":4.8},{"x":30.1,"y":43,"v":4.1},{"x":34.4,"y":43,"v":3.3},{"x":38.7,"y":43,"v":2.4},{"x":43,"y":43,"v":2.2},{"x":47.3,"y":43,"v":1.3},{"x":51.6,"y":43,"v":0.5},
{"x":0,"y":47.3,"v":2.7},{"x":4.3,"y":47.3,"v":2.7},{"x":8.6,"y":47.3,"v":2.7},{"x":12.9,"y":47.3,"v":2.7},{"x":17.2,"y":47.3,"v":2.7},{"x":21.5,"y":47.3,"v":2.6},{"x":25.8,"y":47.3,"v":2.5},{"x":30.1,"y":47.3,"v":2.3},{"x":34.4,"y":47.3,"v":2},{"x":38.7,"y":47.3,"v":1.5},{"x":43,"y":47.3,"v":1.3},{"x":47.3,"y":47.3,"v":0.8},{"x":51.6,"y":47.3,"v":0.35},
{"x":0,"y":51.6,"v":0.7},{"x":4.3,"y":51.6,"v":0.7},{"x":8.6,"y":51.6,"v":0.7},{"x":12.9,"y":51.6,"v":0.7},{"x":17.2,"y":51.6,"v":0.7},{"x":21.5,"y":51.6,"v":0.7},{"x":25.8,"y":51.6,"v":0.7},{"x":30.1,"y":51.6,"v":0.65},{"x":34.4,"y":51.6,"v":0.6},{"x":38.7,"y":51.6,"v":0.55},{"x":43,"y":51.6,"v":0.5},{"x":47.3,"y":51.6,"v":0.35},{"x":51.6,"y":51.6,"v":0.2}
],
"p6":[
{"x":7,"y":3,"v":7.2},{"x":10.7,"y":3,"v":7},{"x":14.4,"y":3,"v":6.7},{"x":4.5,"y":4.5,"v":7.4},{"x":17,"y":4.5,"v":6},{"x":3,"y":7,"v":7.2},{"x":7,"y":7,"v":7.1},{"x":10.7,"y":7,"v":7},{"x":14.4,"y":7,"v":6.5},{"x":18,"y":7,"v":5.8},{"x":3,"y":10.7,"v":7},{"x":7,"y":10.7,"v":7},{"x":10.7,"y":10.7,"v":6.6},{"x":14.4,"y":10.7,"v":6.2},{"x":18,"y":10.7,"v":5.5},{"x":3,"y":14.4,"v":6.7},{"x":7,"y":14.4,"v":6.5},{"x":10.7,"y":14.4,"v":6.2},{"x":14.4,"y":14.4,"v":5.8},{"x":18,"y":14.4,"v":5},{"x":4.5,"y":17,"v":6},{"x":17,"y":17,"v":4.8},{"x":7,"y":18,"v":5.7},{"x":10.7,"y":18,"v":5.4},{"x":14.4,"y":18,"v":5},
{"x":4.5,"y":26,"v":2.6},{"x":7,"y":24.6,"v":2.4},{"x":10.7,"y":24.6,"v":2.3},{"x":14.4,"y":24.6,"v":2.1},{"x":17,"y":26,"v":1.9},{"x":3,"y":28.4,"v":2.2},{"x":7,"y":28.4,"v":1.7},{"x":10.7,"y":28.4,"v":1.4},{"x":14.4,"y":28.4,"v":1.4},{"x":18,"y":28.4,"v":1.6},{"x":3,"y":32,"v":1.9},{"x":7,"y":32,"v":1.2},{"x":10.7,"y":32,"v":1.1},{"x":14.4,"y":32,"v":1.1},{"x":18,"y":32,"v":1.3},{"x":3,"y":35.8,"v":1.7},{"x":7,"y":35.8,"v":1.1},{"x":10.7,"y":35.8,"v":1},{"x":14.4,"y":35.8,"v":1},{"x":18,"y":35.8,"v":1.2},{"x":7,"y":39.4,"v":1.3},{"x":10.7,"y":39.4,"v":1.2},{"x":14.4,"y":39.4,"v":1.1},
{"x":26,"y":4.5,"v":2.6},{"x":24.6,"y":7,"v":2.4},{"x":24.6,"y":10.7,"v":2.3},{"x":24.6,"y":14.4,"v":2.1},{"x":26,"y":17,"v":1.9},{"x":28.4,"y":3,"v":2.2},{"x":28.4,"y":7,"v":1.7},{"x":28.4,"y":10.7,"v":1.4},{"x":28.4,"y":14.4,"v":1.4},{"x":28.4,"y":18,"v":1.6},{"x":32,"y":3,"v":1.9},{"x":32,"y":7,"v":1.2},{"x":32,"y":10.7,"v":1.1},{"x":32,"y":14.4,"v":1.1},{"x":32,"y":18,"v":1.3},{"x":35.8,"y":3,"v":1.7},{"x":35.8,"y":7,"v":1.1},{"x":35.8,"y":10.7,"v":1},{"x":35.8,"y":14.4,"v":1},{"x":35.8,"y":18,"v":1.2},{"x":39.4,"y":7,"v":1.3},{"x":39.4,"y":10.7,"v":1.2},{"x":39.4,"y":14.4,"v":1.1},
{"x":25.8,"y":25.8,"v":2.6},{"x":28.4,"y":24.6,"v":2.2},{"x":32,"y":24.6,"v":1.9},{"x":35.8,"y":24.6,"v":1.7},{"x":24.6,"y":28.4,"v":2.2},{"x":28.4,"y":28.4,"v":2.2},{"x":32,"y":28.4,"v":1.9},{"x":35.8,"y":28.4,"v":1.7},{"x":39.4,"y":28.4,"v":1.4},{"x":24.6,"y":32,"v":2},{"x":28.4,"y":32,"v":1.9},{"x":32,"y":32,"v":1.7},{"x":35.8,"y":32,"v":1.6},{"x":39.4,"y":32,"v":1.3},{"x":24.6,"y":35.8,"v":1.7},{"x":28.4,"y":35.8,"v":1.7},{"x":32,"y":35.8,"v":1.6},{"x":35.8,"y":35.8,"v":1.4},{"x":28.4,"y":39.4,"v":1.3},{"x":32,"y":39.4,"v":1.3},{"x":35.8,"y":39.4,"v":1.1}
],
"p7":[
{"x":7,"y":3,"v":11.5},{"x":10.7,"y":3,"v":11.3},{"x":14.4,"y":3,"v":10},{"x":4.5,"y":4.5,"v":11.7},{"x":17,"y":4.5,"v":8.7},{"x":3,"y":7,"v":11.2},{"x":7,"y":7,"v":11.4},{"x":10.7,"y":7,"v":11},{"x":14.4,"y":7,"v":10},{"x":18,"y":7,"v":8.5},{"x":3,"y":10.7,"v":10.8},{"x":7,"y":10.7,"v":11},{"x":10.7,"y":10.7,"v":10},{"x":14.4,"y":10.7,"v":9.3},{"x":18,"y":10.7,"v":8},{"x":3,"y":14.4,"v":10},{"x":7,"y":14.4,"v":10},{"x":10.7,"y":14.4,"v":9.2},{"x":14.4,"y":14.4,"v":8.5},{"x":18,"y":14.4,"v":7.3},{"x":4.5,"y":17,"v":8.6},{"x":17,"y":17,"v":7},{"x":7,"y":18,"v":8.3},{"x":10.7,"y":18,"v":7.7},{"x":14.4,"y":18,"v":7.2},
{"x":4.5,"y":26,"v":3.6},{"x":7,"y":24.6,"v":3.5},{"x":10.7,"y":24.6,"v":3.3},{"x":14.4,"y":24.6,"v":2.8},{"x":17,"y":26,"v":2.6},{"x":3,"y":28.4,"v":3},{"x":7,"y":28.4,"v":2.6},{"x":10.7,"y":28.4,"v":2.4},{"x":14.4,"y":28.4,"v":2.2},{"x":18,"y":28.4,"v":2.2},{"x":3,"y":32,"v":2.6},{"x":7,"y":32,"v":2},{"x":10.7,"y":32,"v":1.8},{"x":14.4,"y":32,"v":1.7},{"x":18,"y":32,"v":1.6},{"x":3,"y":35.8,"v":2.1},{"x":7,"y":35.8,"v":1.5},{"x":10.7,"y":35.8,"v":1.4},{"x":14.4,"y":35.8,"v":1.4},{"x":18,"y":35.8,"v":1.4},{"x":7,"y":39.4,"v":1.3},{"x":10.7,"y":39.4,"v":1.2},{"x":14.4,"y":39.4,"v":1.2},
{"x":26,"y":4.5,"v":3.6},{"x":24.6,"y":7,"v":3.5},{"x":24.6,"y":10.7,"v":3.3},{"x":24.6,"y":14.4,"v":2.8},{"x":26,"y":17,"v":2.6},{"x":28.4,"y":3,"v":3},{"x":28.4,"y":7,"v":2.6},{"x":28.4,"y":10.7,"v":2.4},{"x":28.4,"y":14.4,"v":2.2},{"x":28.4,"y":18,"v":2.2},{"x":32,"y":3,"v":2.6},{"x":32,"y":7,"v":2},{"x":32,"y":10.7,"v":1.8},{"x":32,"y":14.4,"v":1.7},{"x":32,"y":18,"v":1.6},{"x":35.8,"y":3,"v":2.1},{"x":35.8,"y":7,"v":1.5},{"x":35.8,"y":10.7,"v":1.4},{"x":35.8,"y":14.4,"v":1.4},{"x":35.8,"y":18,"v":1.4},{"x":39.4,"y":7,"v":1.3},{"x":39.4,"y":10.7,"v":1.2},{"x":39.4,"y":14.4,"v":1.2},
{"x":25.8,"y":25.8,"v":4},{"x":28.4,"y":24.6,"v":3.7},{"x":32,"y":24.6,"v":3.1},{"x":35.8,"y":24.6,"v":2.6},{"x":24.6,"y":28.4,"v":3.3},{"x":28.4,"y":28.4,"v":3.6},{"x":32,"y":28.4,"v":3},{"x":35.8,"y":28.4,"v":2.6},{"x":39.4,"y":28.4,"v":2},{"x":24.6,"y":32,"v":3},{"x":28.4,"y":32,"v":3},{"x":32,"y":32,"v":2.7},{"x":35.8,"y":32,"v":2.4},{"x":39.4,"y":32,"v":1.9},{"x":24.6,"y":35.8,"v":2.5},{"x":28.4,"y":35.8,"v":2.5},{"x":32,"y":35.8,"v":2.4},{"x":35.8,"y":35.8,"v":2.1},{"x":28.4,"y":39.4,"v":2},{"x":32,"y":39.4,"v":1.9},{"x":35.8,"y":39.4,"v":1.7}
]
},
"concat":[
{"width":233,"height":209,"title":"ϕ₁ C5G7","encoding":{"x":{"field":"x","type":"quantitative","scale":{"domain":[0,70],"nice":false},"axis":{"title":null}},"y":{"field":"y","type":"quantitative","scale":{"domain":[0,70],"nice":false},"axis":{"title":null}}},"layer":[
{"data":{"values":[{"x":0,"a":64,"y":0,"b":64}]},"mark":{"type":"rect","color":"#00009a","stroke":"#2a3fd0","strokeWidth":0.8},"encoding":{"x2":{"field":"a"},"y2":{"field":"b"}}},
{"data":{"name":"c1"},"transform":[{"calculate":"datum.x+4.4","as":"a"},{"calculate":"datum.y+4.4","as":"b"}],"mark":{"type":"rect"},"encoding":{"x2":{"field":"a"},"y2":{"field":"b"},"color":{"field":"v","type":"quantitative","scale":{"domain":[0.006,2.295],"range":["#00008f","#0000ff","#0080ff","#00ffff","#80ff80","#ffff00","#ff8000","#ff0000","#800000"]},"legend":{"title":null,"format":".2~f","values":[0.2,0.4,0.6,0.8,1,1.2,1.4,1.6,1.8,2,2.2]}}}},
{"data":{"values":[{"x":77.3,"y":72.5,"t":"×10⁻⁴"}]},"mark":{"type":"text","align":"left","fontSize":7.5,"color":"#808080"},"encoding":{"text":{"field":"t"}}}
]},
{"width":233,"height":209,"title":"ϕ₂ C5G7","encoding":{"x":{"field":"x","type":"quantitative","scale":{"domain":[0,70],"nice":false},"axis":{"title":null}},"y":{"field":"y","type":"quantitative","scale":{"domain":[0,70],"nice":false},"axis":{"title":null}}},"layer":[
{"data":{"values":[{"x":0,"a":64,"y":0,"b":64}]},"mark":{"type":"rect","color":"#00009a","stroke":"#2a3fd0","strokeWidth":0.8},"encoding":{"x2":{"field":"a"},"y2":{"field":"b"}}},
{"data":{"name":"c2"},"transform":[{"calculate":"datum.x+4.4","as":"a"},{"calculate":"datum.y+4.4","as":"b"}],"mark":{"type":"rect"},"encoding":{"x2":{"field":"a"},"y2":{"field":"b"},"color":{"field":"v","type":"quantitative","scale":{"domain":[0,4.96],"range":["#00008f","#0000ff","#0080ff","#00ffff","#80ff80","#ffff00","#ff8000","#ff0000","#800000"]},"legend":{"title":null,"format":".2~f","values":[0.5,1,1.5,2,2.5,3,3.5,4,4.5]}}}},
{"data":{"values":[{"x":77.3,"y":72.5,"t":"×10⁻⁴"}]},"mark":{"type":"text","align":"left","fontSize":7.5,"color":"#808080"},"encoding":{"text":{"field":"t"}}}
]},
{"width":233,"height":209,"title":"ϕ₃ C5G7","encoding":{"x":{"field":"x","type":"quantitative","scale":{"domain":[0,70],"nice":false},"axis":{"title":null}},"y":{"field":"y","type":"quantitative","scale":{"domain":[0,70],"nice":false},"axis":{"title":null}}},"layer":[
{"data":{"values":[{"x":0,"a":64,"y":0,"b":64}]},"mark":{"type":"rect","color":"#00009a","stroke":"#2a3fd0","strokeWidth":0.8},"encoding":{"x2":{"field":"a"},"y2":{"field":"b"}}},
{"data":{"name":"c3"},"transform":[{"calculate":"datum.x+4.4","as":"a"},{"calculate":"datum.y+4.4","as":"b"}],"mark":{"type":"rect"},"encoding":{"x2":{"field":"a"},"y2":{"field":"b"},"color":{"field":"v","type":"quantitative","scale":{"domain":[0.045,2.2],"range":["#00008f","#0000ff","#0080ff","#00ffff","#80ff80","#ffff00","#ff8000","#ff0000","#800000"]},"legend":{"title":null,"format":".2~f","values":[0.2,0.4,0.6,0.8,1,1.2,1.4,1.6,1.8,2]}}}},
{"data":{"values":[{"x":77.3,"y":72.5,"t":"×10⁻⁴"}]},"mark":{"type":"text","align":"left","fontSize":7.5,"color":"#808080"},"encoding":{"text":{"field":"t"}}}
]},
{"width":233,"height":209,"title":"ϕ₄ C5G7","encoding":{"x":{"field":"x","type":"quantitative","scale":{"domain":[0,70],"nice":false},"axis":{"title":null}},"y":{"field":"y","type":"quantitative","scale":{"domain":[0,70],"nice":false},"axis":{"title":null}}},"layer":[
{"data":{"values":[{"x":0,"a":64,"y":0,"b":64}]},"mark":{"type":"rect","color":"#00009a","stroke":"#2a3fd0","strokeWidth":0.8},"encoding":{"x2":{"field":"a"},"y2":{"field":"b"}}},
{"data":{"name":"c4"},"transform":[{"calculate":"datum.x+4.4","as":"a"},{"calculate":"datum.y+4.4","as":"b"}],"mark":{"type":"rect"},"encoding":{"x2":{"field":"a"},"y2":{"field":"b"},"color":{"field":"v","type":"quantitative","scale":{"domain":[0,8.38],"range":["#00008f","#0000ff","#0080ff","#00ffff","#80ff80","#ffff00","#ff8000","#ff0000","#800000"]},"legend":{"title":null,"format":".2~f","values":[1,2,3,4,5,6,7,8]}}}},
{"data":{"values":[{"x":77.3,"y":72.5,"t":"×10⁻⁵"}]},"mark":{"type":"text","align":"left","fontSize":7.5,"color":"#808080"},"encoding":{"text":{"field":"t"}}}
]},
{"width":233,"height":209,"title":"ϕ₅ C5G7","encoding":{"x":{"field":"x","type":"quantitative","scale":{"domain":[0,70],"nice":false},"axis":{"title":null}},"y":{"field":"y","type":"quantitative","scale":{"domain":[0,70],"nice":false},"axis":{"title":null}}},"layer":[
{"data":{"values":[{"x":0,"a":64,"y":0,"b":64}]},"mark":{"type":"rect","color":"#00009a","stroke":"#2a3fd0","strokeWidth":0.8},"encoding":{"x2":{"field":"a"},"y2":{"field":"b"}}},
{"data":{"name":"c5"},"transform":[{"calculate":"datum.x+4.4","as":"a"},{"calculate":"datum.y+4.4","as":"b"}],"mark":{"type":"rect"},"encoding":{"x2":{"field":"a"},"y2":{"field":"b"},"color":{"field":"v","type":"quantitative","scale":{"domain":[0.05,6.14],"range":["#00008f","#0000ff","#0080ff","#00ffff","#80ff80","#ffff00","#ff8000","#ff0000","#800000"]},"legend":{"title":null,"format":".2~f","values":[1,2,3,4,5,6]}}}},
{"data":{"values":[{"x":77.3,"y":72.5,"t":"×10⁻⁵"}]},"mark":{"type":"text","align":"left","fontSize":7.5,"color":"#808080"},"encoding":{"text":{"field":"t"}}}
]},
{"width":233,"height":209,"title":"ϕ₆ C5G7","encoding":{"x":{"field":"x","type":"quantitative","scale":{"domain":[0,70],"nice":false},"axis":{"title":null}},"y":{"field":"y","type":"quantitative","scale":{"domain":[0,70],"nice":false},"axis":{"title":null}}},"layer":[
{"data":{"values":[{"x":0,"a":64,"y":0,"b":64}]},"mark":{"type":"rect","color":"#00009a","stroke":"#2a3fd0","strokeWidth":0.8},"encoding":{"x2":{"field":"a"},"y2":{"field":"b"}}},
{"data":{"name":"c6"},"transform":[{"calculate":"datum.x+4.4","as":"a"},{"calculate":"datum.y+4.4","as":"b"}],"mark":{"type":"rect"},"encoding":{"x2":{"field":"a"},"y2":{"field":"b"},"color":{"field":"v","type":"quantitative","scale":{"domain":[0.01,7.5],"range":["#00008f","#0000ff","#0080ff","#00ffff","#80ff80","#ffff00","#ff8000","#ff0000","#800000"]},"legend":{"title":null,"format":".2~f","values":[1,2,3,4,5,6,7]}}}},
{"data":{"name":"p6"},"transform":[{"calculate":"datum.x+0.65","as":"a"},{"calculate":"datum.y+0.65","as":"b"},{"calculate":"datum.x-0.65","as":"x"},{"calculate":"datum.y-0.65","as":"y"}],"mark":{"type":"rect"},"encoding":{"x2":{"field":"a"},"y2":{"field":"b"},"color":{"field":"v","type":"quantitative","scale":{"domain":[0.01,7.5],"range":["#00008f","#0000ff","#0080ff","#00ffff","#80ff80","#ffff00","#ff8000","#ff0000","#800000"]},"legend":{"title":null,"format":".2~f","values":[1,2,3,4,5,6,7]}}}},
{"data":{"values":[{"x":77.3,"y":72.5,"t":"×10⁻⁵"}]},"mark":{"type":"text","align":"left","fontSize":7.5,"color":"#808080"},"encoding":{"text":{"field":"t"}}}
]},
{"width":233,"height":209,"title":"ϕ₇ C5G7","encoding":{"x":{"field":"x","type":"quantitative","scale":{"domain":[0,70],"nice":false},"axis":{"title":null}},"y":{"field":"y","type":"quantitative","scale":{"domain":[0,70],"nice":false},"axis":{"title":null}}},"layer":[
{"data":{"values":[{"x":0,"a":64,"y":0,"b":64}]},"mark":{"type":"rect","color":"#00009a","stroke":"#2a3fd0","strokeWidth":0.8},"encoding":{"x2":{"field":"a"},"y2":{"field":"b"}}},
{"data":{"name":"c7"},"transform":[{"calculate":"datum.x+4.4","as":"a"},{"calculate":"datum.y+4.4","as":"b"}],"mark":{"type":"rect"},"encoding":{"x2":{"field":"a"},"y2":{"field":"b"},"color":{"field":"v","type":"quantitative","scale":{"domain":[0.03,11.75],"range":["#00008f","#0000ff","#0080ff","#00ffff","#80ff80","#ffff00","#ff8000","#ff0000","#800000"]},"legend":{"title":null,"format":".2~f","values":[1,2,3,4,5,6,7,8,9,10,11]}}}},
{"data":{"name":"p7"},"transform":[{"calculate":"datum.x+0.65","as":"a"},{"calculate":"datum.y+0.65","as":"b"},{"calculate":"datum.x-0.65","as":"x"},{"calculate":"datum.y-0.65","as":"y"}],"mark":{"type":"rect"},"encoding":{"x2":{"field":"a"},"y2":{"field":"b"},"color":{"field":"v","type":"quantitative","scale":{"domain":[0.03,11.75],"range":["#00008f","#0000ff","#0080ff","#00ffff","#80ff80","#ffff00","#ff8000","#ff0000","#800000"]},"legend":{"title":null,"format":".2~f","values":[1,2,3,4,5,6,7,8,9,10,11]}}}},
{"data":{"values":[{"x":77.3,"y":72.5,"t":"×10⁻⁵"}]},"mark":{"type":"text","align":"left","fontSize":7.5,"color":"#808080"},"encoding":{"text":{"field":"t"}}}
]}
]}
